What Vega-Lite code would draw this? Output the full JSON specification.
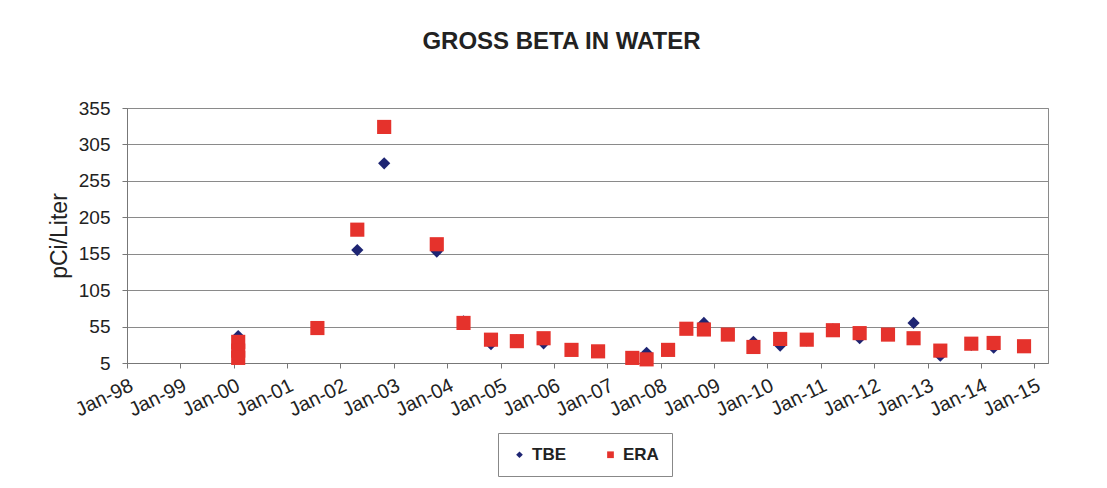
{
  "$schema": "https://vega.github.io/schema/vega-lite/v6.json",
  "width": 921,
  "height": 255,
  "autosize": "none",
  "padding": {"left": 127, "top": 108, "right": 59, "bottom": 125},
  "background": "white",
  "title": {
    "text": "GROSS BETA IN WATER",
    "font": "Liberation Sans",
    "fontSize": 24,
    "fontWeight": "bold",
    "color": "#222222",
    "anchor": "middle",
    "frame": "group",
    "baseline": "alphabetic",
    "offset": 26,
    "dx": -26
  },
  "config": {
    "font": "Liberation Sans",
    "view": {"stroke": "#8a8a8a", "strokeWidth": 1}
  },
  "data": {
    "values": [
      {"date": "2000-02-01T00:00:00", "series": "TBE", "value": 42},
      {"date": "2002-04-26T00:00:00", "series": "TBE", "value": 160},
      {"date": "2002-10-27T00:00:00", "series": "TBE", "value": 279},
      {"date": "2003-10-22T00:00:00", "series": "TBE", "value": 158},
      {"date": "2004-04-22T00:00:00", "series": "TBE", "value": 62},
      {"date": "2004-10-27T00:00:00", "series": "TBE", "value": 31},
      {"date": "2005-04-22T00:00:00", "series": "TBE", "value": 36},
      {"date": "2005-10-22T00:00:00", "series": "TBE", "value": 32},
      {"date": "2006-05-01T00:00:00", "series": "TBE", "value": 23},
      {"date": "2006-10-30T00:00:00", "series": "TBE", "value": 21},
      {"date": "2007-09-27T00:00:00", "series": "TBE", "value": 19},
      {"date": "2008-02-21T00:00:00", "series": "TBE", "value": 22},
      {"date": "2008-06-25T00:00:00", "series": "TBE", "value": 52},
      {"date": "2008-10-23T00:00:00", "series": "TBE", "value": 60},
      {"date": "2009-04-05T00:00:00", "series": "TBE", "value": 44},
      {"date": "2009-09-27T00:00:00", "series": "TBE", "value": 34},
      {"date": "2010-03-29T00:00:00", "series": "TBE", "value": 29},
      {"date": "2010-09-27T00:00:00", "series": "TBE", "value": 36},
      {"date": "2011-03-25T00:00:00", "series": "TBE", "value": 51},
      {"date": "2011-09-24T00:00:00", "series": "TBE", "value": 39},
      {"date": "2012-04-05T00:00:00", "series": "TBE", "value": 45},
      {"date": "2012-09-27T00:00:00", "series": "TBE", "value": 60},
      {"date": "2013-03-29T00:00:00", "series": "TBE", "value": 15},
      {"date": "2013-10-27T00:00:00", "series": "TBE", "value": 30},
      {"date": "2014-03-29T00:00:00", "series": "TBE", "value": 26},
      {"date": "2014-10-23T00:00:00", "series": "TBE", "value": 27},
      {"date": "2000-02-01T00:00:00", "series": "ERA", "value": 34},
      {"date": "2000-02-01T00:00:00", "series": "ERA", "value": 22},
      {"date": "2000-02-01T00:00:00", "series": "ERA", "value": 12},
      {"date": "2001-07-27T00:00:00", "series": "ERA", "value": 53},
      {"date": "2002-04-26T00:00:00", "series": "ERA", "value": 188},
      {"date": "2002-10-27T00:00:00", "series": "ERA", "value": 329},
      {"date": "2003-10-22T00:00:00", "series": "ERA", "value": 168},
      {"date": "2004-04-22T00:00:00", "series": "ERA", "value": 60},
      {"date": "2004-10-27T00:00:00", "series": "ERA", "value": 37},
      {"date": "2005-04-22T00:00:00", "series": "ERA", "value": 35},
      {"date": "2005-10-22T00:00:00", "series": "ERA", "value": 39},
      {"date": "2006-05-01T00:00:00", "series": "ERA", "value": 23},
      {"date": "2006-10-30T00:00:00", "series": "ERA", "value": 21},
      {"date": "2007-06-21T00:00:00", "series": "ERA", "value": 12},
      {"date": "2007-09-27T00:00:00", "series": "ERA", "value": 10},
      {"date": "2008-02-21T00:00:00", "series": "ERA", "value": 23},
      {"date": "2008-06-25T00:00:00", "series": "ERA", "value": 52},
      {"date": "2008-10-23T00:00:00", "series": "ERA", "value": 51},
      {"date": "2009-04-05T00:00:00", "series": "ERA", "value": 44},
      {"date": "2009-09-27T00:00:00", "series": "ERA", "value": 27},
      {"date": "2010-03-29T00:00:00", "series": "ERA", "value": 38},
      {"date": "2010-09-27T00:00:00", "series": "ERA", "value": 37},
      {"date": "2011-03-25T00:00:00", "series": "ERA", "value": 50},
      {"date": "2011-09-24T00:00:00", "series": "ERA", "value": 46},
      {"date": "2012-04-05T00:00:00", "series": "ERA", "value": 44},
      {"date": "2012-09-27T00:00:00", "series": "ERA", "value": 39},
      {"date": "2013-03-29T00:00:00", "series": "ERA", "value": 22},
      {"date": "2013-10-27T00:00:00", "series": "ERA", "value": 31.5},
      {"date": "2014-03-29T00:00:00", "series": "ERA", "value": 32.5},
      {"date": "2014-10-23T00:00:00", "series": "ERA", "value": 28}
    ]
  },
  "mark": {"type": "point", "filled": true, "opacity": 1, "strokeWidth": 0},
  "encoding": {
    "x": {
      "field": "date",
      "type": "temporal",
      "scale": {"domain": [{"year": 1998, "month": 1, "date": 1}, {"year": 2015, "month": 4, "date": 5}]},
      "axis": {
        "title": null,
        "grid": false,
        "format": "%b-%y",
        "values": [
          {"year": 1998, "month": 1, "date": 1}, {"year": 1999, "month": 1, "date": 1},
          {"year": 2000, "month": 1, "date": 1}, {"year": 2001, "month": 1, "date": 1},
          {"year": 2002, "month": 1, "date": 1}, {"year": 2003, "month": 1, "date": 1},
          {"year": 2004, "month": 1, "date": 1}, {"year": 2005, "month": 1, "date": 1},
          {"year": 2006, "month": 1, "date": 1}, {"year": 2007, "month": 1, "date": 1},
          {"year": 2008, "month": 1, "date": 1}, {"year": 2009, "month": 1, "date": 1},
          {"year": 2010, "month": 1, "date": 1}, {"year": 2011, "month": 1, "date": 1},
          {"year": 2012, "month": 1, "date": 1}, {"year": 2013, "month": 1, "date": 1},
          {"year": 2014, "month": 1, "date": 1}, {"year": 2015, "month": 1, "date": 1}
        ],
        "labelAngle": -26,
        "labelFontSize": 20,
        "labelColor": "#222222",
        "labelPadding": 7,
        "labelOverlap": false,
        "labelFlush": false,
        "labelBound": false,
        "tickSize": 5,
        "tickColor": "#777777",
        "domainColor": "#777777"
      }
    },
    "y": {
      "field": "value",
      "type": "quantitative",
      "scale": {"domain": [5, 355], "nice": false, "zero": false},
      "axis": {
        "title": "pCi/Liter",
        "titleFontSize": 23,
        "titleFontWeight": "normal",
        "titleColor": "#222222",
        "titlePadding": 7,
        "values": [5, 55, 105, 155, 205, 255, 305, 355],
        "labelFontSize": 19,
        "labelColor": "#222222",
        "labelPadding": 12,
        "tickSize": 5,
        "tickColor": "#777777",
        "domainColor": "#777777",
        "grid": true,
        "gridColor": "#8a8a8a",
        "gridOpacity": 1
      }
    },
    "color": {
      "field": "series",
      "type": "nominal",
      "scale": {"domain": ["TBE", "ERA"], "range": ["#1e2573", "#e5322c"]},
      "legend": {
        "title": null,
        "orient": "none",
        "legendX": 371,
        "legendY": 325,
        "direction": "horizontal",
        "strokeColor": "#888888",
        "padding": 13,
        "columnPadding": 36,
        "labelFontSize": 17,
        "labelFontWeight": "bold",
        "labelColor": "#222222",
        "labelOffset": 4,
        "symbolSize": 45
      }
    },
    "shape": {
      "field": "series",
      "type": "nominal",
      "scale": {"domain": ["TBE", "ERA"], "range": ["diamond", "square"]},
      "legend": {
        "title": null,
        "orient": "none",
        "legendX": 371,
        "legendY": 325,
        "direction": "horizontal",
        "strokeColor": "#888888",
        "padding": 13,
        "columnPadding": 36,
        "labelFontSize": 17,
        "labelFontWeight": "bold",
        "labelColor": "#222222",
        "labelOffset": 4,
        "symbolSize": 45
      }
    },
    "size": {
      "condition": {"test": "datum.series === 'ERA'", "value": 200},
      "value": 150
    }
  }
}
